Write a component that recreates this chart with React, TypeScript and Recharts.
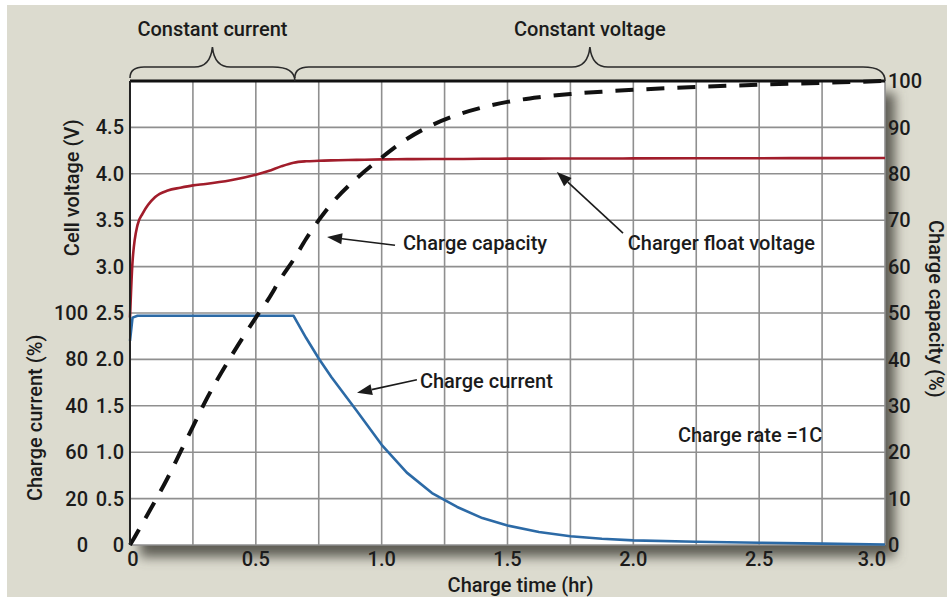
import {
  CartesianGrid,
  ComposedChart,
  Label,
  Line,
  ReferenceArea,
  ReferenceDot,
  ReferenceLine,
  XAxis,
  YAxis,
} from "recharts";

// charge time (hr) and the three curves
const times = [
  0, 0.01, 0.03, 0.05, 0.1, 0.15, 0.2, 0.25, 0.3, 0.4, 0.5, 0.55, 0.6, 0.65, 0.7, 0.75, 0.8, 0.9, 1.0,
  1.1, 1.2, 1.3, 1.4, 1.5, 1.625, 1.75, 1.875, 2.0, 2.25, 2.5, 2.75, 3.0,
];
const cellVoltage = [
  2.45, 3.05, 3.45, 3.57, 3.75, 3.82, 3.85, 3.875, 3.89, 3.93, 3.99, 4.03, 4.08, 4.12, 4.135, 4.14, 4.145,
  4.15, 4.155, 4.158, 4.16, 4.16, 4.162, 4.163, 4.164, 4.165, 4.165, 4.166, 4.167, 4.168, 4.169, 4.17,
];
const chargeCurrent = [
  2.2, 2.45, 2.47, 2.47, 2.47, 2.47, 2.47, 2.47, 2.47, 2.47, 2.47, 2.47, 2.47, 2.47, 2.23, 2.01, 1.81,
  1.45, 1.08, 0.78, 0.56, 0.41, 0.29, 0.21, 0.14, 0.095, 0.068, 0.05, 0.035, 0.025, 0.015, 0.005,
];
const chargeCapacity = [
  0, 0.9, 2.8, 4.7, 9.5, 14.5, 20, 25.5, 31, 40.5, 49, 53, 57.5, 61.5, 66, 70, 73.5, 79, 83.5, 87.5,
  90.5, 92.7, 94.3, 95.5, 96.5, 97.2, 97.7, 98.1, 98.7, 99.2, 99.6, 100,
];

const timeTicks = [0, 0.25, 0.5, 0.75, 1, 1.25, 1.5, 1.75, 2, 2.25, 2.5, 2.75, 3];
const voltageTicks = [0, 0.5, 1, 1.5, 2, 2.5, 3, 3.5, 4, 4.5];
// the charge-current (%) scale shares the voltage gridlines from 0 to 2.5 V
const currentTicks = [0, 0.5, 1, 1.5, 2, 2.5];
const currentLabels = ["0", "20", "60", "40", "80", "100"];
const capacityTicks = [0, 10, 20, 30, 40, 50, 60, 70, 80, 90, 100];

const phaseSplit = 0.655;
const phases = [
  { name: "Constant current", from: 0, to: phaseSplit },
  { name: "Constant voltage", from: phaseSplit, to: 3 },
];

const notes = [
  { text: "Charge capacity", x: 1.085, y: 3.25 },
  { text: "Charger float voltage", x: 1.978, y: 3.25 },
  { text: "Charge current", x: 1.152, y: 1.77 },
  { text: "Charge rate =1C", x: 2.177, y: 1.185 },
];
const arrows = [
  { from: [1.053, 3.23], to: [0.783, 3.32] },
  { from: [1.959, 3.36], to: [1.696, 4.02] },
  { from: [1.14, 1.78], to: [0.902, 1.64] },
];

const data = times.map((t, i) => ({
  t,
  voltage: cellVoltage[i],
  current: chargeCurrent[i],
  capacity: chargeCapacity[i],
}));

const FONT = "Roboto, 'Liberation Sans', sans-serif";
const FS = 20;
const FW = 500;
const INK = "#1b1b1b";
const BG = "#dcdbcf";

const tickStyle = { fontSize: FS, fontWeight: FW, fill: INK, fontFamily: FONT };

function PlotBackground(props: any) {
  const { x, y, width, height } = props;
  return (
    <g>
      <defs>
        <filter id="plotShadow" x="-10%" y="-10%" width="130%" height="130%">
          <feGaussianBlur stdDeviation="6" />
        </filter>
      </defs>
      <rect x={x + 10} y={y + 12} width={width} height={height} fill="#5e5d55" filter="url(#plotShadow)" />
      <rect x={x} y={y} width={width} height={height} fill="#ffffff" />
    </g>
  );
}

function Brace(props: any) {
  const { x1, x2, y1, label } = props;
  const yEnd = y1 - 3;
  const yH = y1 - 14;
  const yTip = y1 - 34;
  const mid = (x1 + x2) / 2;
  const d = [
    `M${x1},${yEnd}`,
    `Q${x1},${yH} ${x1 + 14},${yH}`,
    `L${mid - 18},${yH}`,
    `Q${mid - 2},${yH} ${mid},${yTip}`,
    `Q${mid + 2},${yH} ${mid + 18},${yH}`,
    `L${x2 - 22},${yH}`,
    `Q${x2},${yH} ${x2},${y1}`,
  ].join(" ");
  return (
    <g>
      <path d={d} fill="none" stroke="#2a2a2a" strokeWidth={1.6} />
      <text
        x={mid}
        y={y1 - 52}
        textAnchor="middle"
        dominantBaseline="central"
        fontFamily={FONT}
        fontSize={FS}
        fontWeight={FW}
        fill={INK}
      >
        {label}
      </text>
    </g>
  );
}

function Arrow(props: any) {
  const { x1, y1, x2, y2 } = props;
  const ang = Math.atan2(y2 - y1, x2 - x1);
  const len = 15;
  const half = 5.5;
  const bx = x2 - len * Math.cos(ang);
  const by = y2 - len * Math.sin(ang);
  const px = -Math.sin(ang) * half;
  const py = Math.cos(ang) * half;
  return (
    <g>
      <line x1={x1} y1={y1} x2={bx} y2={by} stroke={INK} strokeWidth={1.6} />
      <polygon points={`${x2},${y2} ${bx + px},${by + py} ${bx - px},${by - py}`} fill={INK} />
    </g>
  );
}

function NoteText(props: any) {
  const { cx, cy, text } = props;
  return (
    <text x={cx} y={cy} dominantBaseline="central" fontFamily={FONT} fontSize={FS} fontWeight={FW} fill={INK}>
      {text}
    </text>
  );
}

function SideTitle(props: any) {
  const { viewBox, title, xPos, frac, rot } = props;
  const y = viewBox.y + viewBox.height * frac;
  return (
    <text
      transform={`translate(${xPos},${y}) rotate(${rot})`}
      textAnchor="middle"
      dominantBaseline="central"
      fontFamily={FONT}
      fontSize={FS}
      fontWeight={FW}
      fill={INK}
    >
      {title}
    </text>
  );
}

// voltage label next to the plot, charge-current (%) label further out
function VoltTick(props: any) {
  const { x, y, payload } = props;
  const v = payload.value;
  const ci = currentTicks.indexOf(v);
  return (
    <g>
      <text x={x} y={y} textAnchor="end" dominantBaseline="central" {...tickStyle}>
        {v === 0 ? "0" : v.toFixed(1)}
      </text>
      {ci >= 0 && (
        <text x={x - 36} y={y} textAnchor="end" dominantBaseline="central" {...tickStyle}>
          {currentLabels[ci]}
        </text>
      )}
    </g>
  );
}

function TimeTick(props: any) {
  const { x, y, payload, index } = props;
  const v = payload.value;
  if (Math.abs(v * 2 - Math.round(v * 2)) > 1e-6) return null;
  const last = index === timeTicks.length - 1;
  const txt = v === 0 ? "0" : v.toFixed(1);
  return (
    <text
      x={last ? x + 1 : v === 0 ? x + 3 : x}
      y={y}
      dy="0.71em"
      textAnchor={last ? "end" : "middle"}
      {...tickStyle}
    >
      {txt}
    </text>
  );
}

export default function App() {
  return (
    <div style={{ position: "absolute", left: 0, top: 0, width: 947, height: 597, background: "#fff" }}>
      <div style={{ position: "absolute", left: 7, top: 5, right: 0, bottom: 0, background: BG }} />
      <div style={{ position: "absolute", left: 0, top: 0 }}>
        <ComposedChart width={947} height={597} data={data} margin={{ top: 81, right: 0, bottom: 0, left: 0 }}>
          <ReferenceArea
            x1={0}
            x2={3}
            y1={0}
            y2={5}
            yAxisId="v"
            ifOverflow="visible"
            shape={<PlotBackground />}
            zIndex={-200}
          />
          <CartesianGrid yAxisId="v" stroke="#8f8f8f" strokeWidth={1.6} />
          <XAxis
            dataKey="t"
            type="number"
            domain={[0, 3]}
            ticks={timeTicks}
            interval={0}
            height={52}
            axisLine={false}
            tickLine={false}
            tickSize={0}
            tickMargin={7}
            tick={<TimeTick />}
          >
            <Label
              content={(p: any) => (
                <text
                  x={p.viewBox.x + p.viewBox.width / 2 + 13}
                  y={585}
                  textAnchor="middle"
                  dominantBaseline="central"
                  {...tickStyle}
                >
                  Charge time (hr)
                </text>
              )}
            />
          </XAxis>
          <YAxis
            yAxisId="v"
            type="number"
            domain={[0, 5]}
            ticks={voltageTicks}
            interval={0}
            width={130}
            axisLine={{ stroke: "#222", strokeWidth: 2 }}
            tickLine={false}
            tickSize={0}
            tickMargin={6}
            tick={<VoltTick />}
          >
            <Label content={<SideTitle title="Cell voltage (V)" xPos={72} frac={0.23} rot={-90} />} />
            <Label content={<SideTitle title="Charge current (%)" xPos={35} frac={0.726} rot={-90} />} />
          </YAxis>
          <YAxis
            yAxisId="cap"
            orientation="right"
            type="number"
            domain={[0, 100]}
            ticks={capacityTicks}
            interval={0}
            width={62}
            axisLine={false}
            tickLine={false}
            tickSize={0}
            tickMargin={3}
            tick={{ ...tickStyle, textAnchor: "start" }}
          >
            <Label content={<SideTitle title="Charge capacity (%)" xPos={936} frac={0.491} rot={90} />} />
          </YAxis>

          <ReferenceLine yAxisId="v" y={5} stroke="#111" strokeWidth={3} />
          {phases.map((p) => (
            <ReferenceLine
              key={p.name}
              yAxisId="v"
              ifOverflow="visible"
              segment={[
                { x: p.from, y: 5 },
                { x: p.to, y: 5 },
              ]}
              shape={(sp: any) => <Brace {...sp} label={p.name} />}
            />
          ))}

          <Line
            yAxisId="v"
            type="monotone"
            dataKey="voltage"
            stroke="#a11d2b"
            strokeWidth={2.6}
            dot={false}
            isAnimationActive={false}
          />
          <Line
            yAxisId="v"
            type="linear"
            dataKey="current"
            stroke="#2c6aa6"
            strokeWidth={2.6}
            strokeLinejoin="round"
            dot={false}
            isAnimationActive={false}
          />
          <Line
            yAxisId="cap"
            type="monotone"
            dataKey="capacity"
            stroke="#111"
            strokeWidth={4}
            strokeDasharray="18 13"
            dot={false}
            isAnimationActive={false}
          />

          {arrows.map((a, i) => (
            <ReferenceLine
              key={i}
              yAxisId="v"
              ifOverflow="visible"
              segment={[
                { x: a.from[0], y: a.from[1] },
                { x: a.to[0], y: a.to[1] },
              ]}
              shape={(sp: any) => <Arrow {...sp} />}
            />
          ))}
          {notes.map((n) => (
            <ReferenceDot
              key={n.text}
              yAxisId="v"
              x={n.x}
              y={n.y}
              r={0}
              ifOverflow="visible"
              shape={(sp: any) => <NoteText {...sp} text={n.text} />}
            />
          ))}
        </ComposedChart>
      </div>
    </div>
  );
}
